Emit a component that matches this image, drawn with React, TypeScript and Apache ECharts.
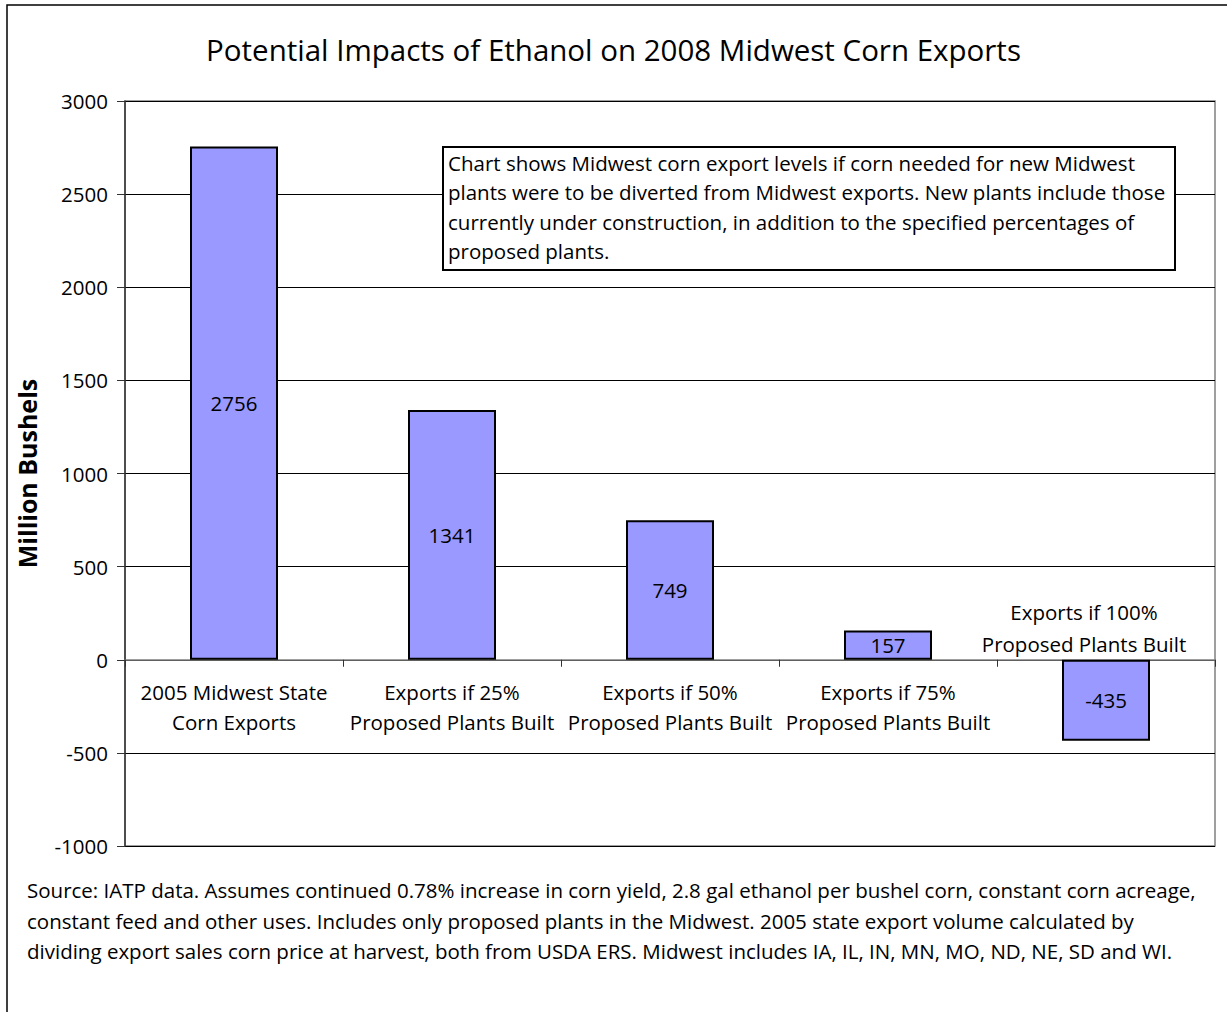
import React, { useEffect, useRef } from "react";
import * as echarts from "echarts";

const categories = [
  "2005 Midwest State\nCorn Exports",
  "Exports if 25%\nProposed Plants Built",
  "Exports if 50%\nProposed Plants Built",
  "Exports if 75%\nProposed Plants Built",
  "Exports if 100%\nProposed Plants Built",
];
const values = [2756, 1341, 749, 157, -435];
const yMin = -1000;
const yMax = 3000;
const yStep = 500;

const titleText = "Potential Impacts of Ethanol on 2008 Midwest Corn Exports";
const yAxisTitle = "Million Bushels";
const noteLines = [
  "Chart shows Midwest corn export levels if corn needed for new Midwest",
  "plants were to be diverted from Midwest exports. New plants include those",
  "currently under construction, in addition to the specified percentages of",
  "proposed plants.",
];
const sourceLines = [
  "Source: IATP data. Assumes continued 0.78% increase in corn yield, 2.8 gal ethanol per bushel corn, constant corn acreage,",
  "constant feed and other uses. Includes only proposed plants in the Midwest. 2005 state export volume calculated by",
  "dividing export sales corn price at harvest, both from USDA ERS. Midwest includes IA, IL, IN, MN, MO, ND, NE, SD and WI.",
];

const FONT = "'Open Sans', 'Noto Sans', sans-serif";
const FS = 20.5;

export default function App() {
  const ref = useRef<HTMLDivElement>(null);
  useEffect(() => {
    document.body.style.margin = "0";
    if (!ref.current) return;
    const chart = echarts.init(ref.current, null, { renderer: "svg" });
    const lastIdx = categories.length - 1;
    const catMarks = categories.map((c, i) =>
      i === lastIdx
        ? {
            coord: [i, 0],
            label: {
              show: true,
              position: "top",
              distance: 0,
              offset: [-22, 0],
              formatter: c,
              fontSize: FS,
              lineHeight: 32,
              color: "#000",
              fontFamily: FONT,
              align: "center",
            },
          }
        : {
            coord: [i, 0],
            label: {
              show: true,
              position: "bottom",
              distance: 17,
              formatter: c,
              fontSize: FS,
              lineHeight: 30,
              color: "#000",
              fontFamily: FONT,
              align: "center",
            },
          }
    );
    chart.setOption({
      animation: false,
      backgroundColor: "#fff",
      textStyle: { fontFamily: FONT },
      title: {
        text: titleText,
        left: "center",
        top: 29,
        textStyle: { fontFamily: FONT, fontSize: 29.5, fontWeight: "normal", color: "#000" },
      },
      grid: {
        left: 125,
        right: 12,
        top: 101,
        bottom: 166,
        show: true,
        borderColor: "#808080",
        borderWidth: 1.5,
        backgroundColor: "transparent",
      },
      xAxis: {
        type: "category",
        data: categories,
        axisLine: { onZero: true, lineStyle: { color: "#808080", width: 1.5 } },
        axisTick: { show: true, length: 7, alignWithLabel: false, lineStyle: { color: "#333" } },
        axisLabel: { show: false },
        splitLine: { show: false },
      },
      yAxis: {
        type: "value",
        min: yMin,
        max: yMax,
        interval: yStep,
        name: yAxisTitle,
        nameLocation: "middle",
        nameGap: 86,
        nameTextStyle: { fontFamily: FONT, fontSize: 25, fontWeight: "bold", color: "#000" },
        axisLine: { show: true, lineStyle: { color: "#333", width: 1.5 } },
        axisTick: { show: true, length: 8, lineStyle: { color: "#333" } },
        axisLabel: {
          margin: 17,
          fontSize: FS,
          color: "#000",
          fontFamily: FONT,
          formatter: (v: number) => String(v),
        },
        splitLine: { show: true, lineStyle: { color: "#000", width: 1 } },
      },
      series: [
        {
          type: "bar",
          data: values,
          barWidth: 88,
          itemStyle: { color: "#9999FF", borderColor: "#000", borderWidth: 2 },
          label: {
            show: true,
            position: "inside",
            fontSize: FS,
            color: "#000",
            fontFamily: FONT,
          },
          markPoint: {
            symbol: "circle",
            symbolSize: 0,
            silent: true,
            data: catMarks,
          },
        },
      ],
      graphic: [
        {
          type: "rect",
          shape: { x: 7, y: 5, width: 1400, height: 1200 },
          style: { fill: "none", stroke: "#000", lineWidth: 1.5 },
          silent: true,
          z: 100,
        },
        {
          type: "rect",
          shape: { x: 443, y: 147, width: 732, height: 123 },
          style: { fill: "#fff", stroke: "#000", lineWidth: 2 },
          z: 100,
        },
        {
          type: "text",
          x: 448,
          y: 148,
          style: {
            text: noteLines.join("\n"),
            fontFamily: FONT,
            fontSize: FS,
            lineHeight: 29.5,
            fill: "#000",
          },
          z: 101,
        },
        {
          type: "text",
          x: 27,
          y: 875,
          style: {
            text: sourceLines.join("\n"),
            fontFamily: FONT,
            fontSize: FS,
            lineHeight: 30.5,
            fill: "#000",
          },
          z: 101,
        },
      ],
    });
    return () => chart.dispose();
  }, []);
  return <div ref={ref} style={{ width: 1227, height: 1012 }} />;
}
